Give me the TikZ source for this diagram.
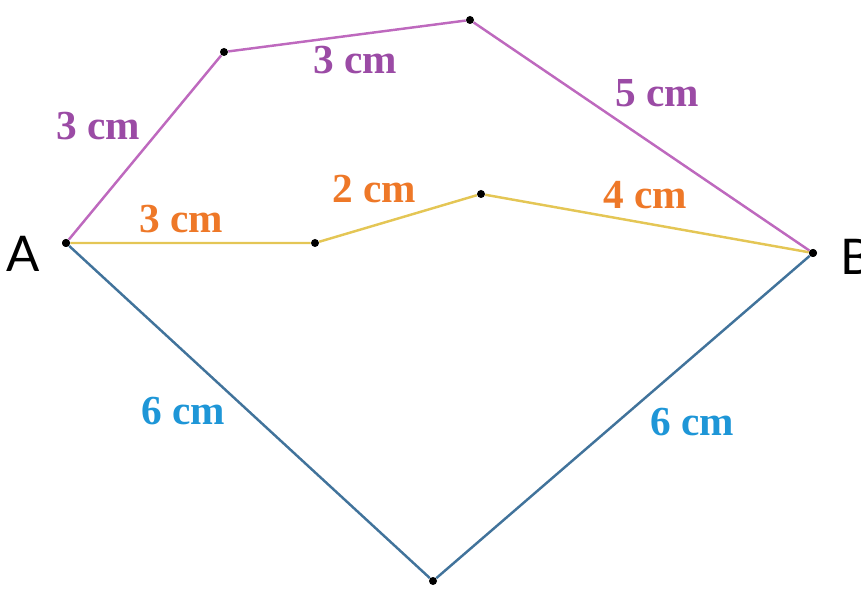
\documentclass[tikz,border=0pt]{standalone}
\usepackage{fontspec}
\setmainfont{Liberation Serif}
\newfontfamily\ptfont{Lato}
\usetikzlibrary{positioning}

\definecolor{violetline}{RGB}{190,105,190}
\definecolor{violettext}{RGB}{155,75,165}
\definecolor{yellowline}{RGB}{228,198,85}
\definecolor{orangetext}{RGB}{238,120,40}
\definecolor{blueline}{RGB}{65,115,155}
\definecolor{bluetext}{RGB}{30,150,215}

\begin{document}
\begin{tikzpicture}[x=0.02cm, y=-0.02cm,
  dot/.style={circle, fill=black, minimum size=1.6mm, inner sep=0pt},
  seg/.style={line width=1.4pt},
  lbl/.style={font=\fontsize{23.5}{24}\selectfont\bfseries, inner sep=0pt},
  pname/.style={font=\ptfont\fontsize{28}{28}\selectfont, inner sep=0pt}]
  \useasboundingbox (0,0) rectangle (861,590);
  % points
  \node[dot] (A)  at (66,243)  {};
  \node[dot] (B)  at (813,253) {};
  \node[dot] (p1) at (224,52)  {};
  \node[dot] (p2) at (470,20)  {};
  \node[dot] (y1) at (315,243) {};
  \node[dot] (y2) at (481,194) {};
  \node[dot] (c)  at (433,581) {};
  % the three paths
  \draw[seg, violetline] (A) -- (p1) -- (p2) -- (B);
  \draw[seg, yellowline] (A) -- (y1) -- (y2) -- (B);
  \draw[seg, blueline] (A) -- (c) -- (B);
  \node[dot] at (A) {};
  \node[dot] at (B) {};
  % lengths
  \node[lbl, violettext] (l1) at (98,126)  {3 cm};
  \node[lbl, violettext] (l2) at (355,60)  {3 cm};
  \node[lbl, violettext] (l3) at (657,93)  {5 cm};
  \node[lbl, orangetext] (l4) at (181,219) {3 cm};
  \node[lbl, orangetext] (l5) at (374,189) {2 cm};
  \node[lbl, orangetext] (l6) at (645,195) {4 cm};
  \node[lbl, bluetext]   (l7) at (183,411) {6 cm};
  \node[lbl, bluetext]   (l8) at (692,422) {6 cm};
  % end points
  \node[pname, left=12pt of A, yshift=-6pt] (nA) {A};
  \node[pname, right=13pt of B, yshift=-2pt] (nB) {B};
\end{tikzpicture}
\end{document}
